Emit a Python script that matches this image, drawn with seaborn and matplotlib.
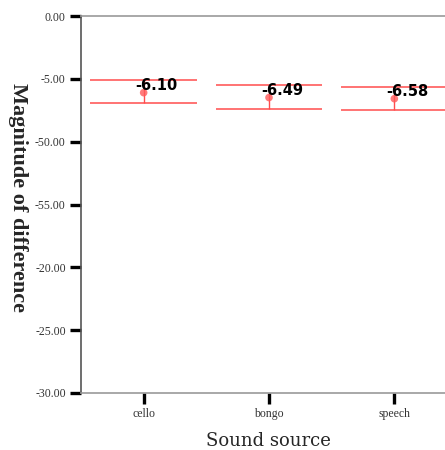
import matplotlib
matplotlib.use("Agg")
import matplotlib.pyplot as plt
import seaborn as sns
import pandas as pd
import numpy as np
from matplotlib.transforms import offset_copy

categories = ["cello", "bongo", "speech"]
means = [-6.10, -6.49, -6.58]
ci_upper = [-5.09, -5.49, -5.62]
ci_lower = [-6.92, -7.40, -7.48]
mean_labels = ["-6.10", "-6.49", "-6.58"]
y_ticks = [0, -5, -10, -15, -20, -25, -30]
y_tick_labels = ["0.00", "-5.00", "-50.00", "-55.00", "-20.00", "-25.00", "-30.00"]

df = pd.DataFrame({"source": categories, "mean": means,
                   "lo": ci_lower, "hi": ci_upper, "label": mean_labels})

sns.set_style("white")
fig = plt.figure(figsize=(4.45, 4.5), dpi=100)
ax = fig.add_axes([0.182, 0.1267, 0.845, 0.8377])

sns.scatterplot(data=df, x="source", y="mean", ax=ax, color="#ff5a5a",
                s=30, edgecolor="none", alpha=0.8, zorder=4, legend=False)

xs = np.arange(len(categories))
cap = 0.425
ax.hlines(df["hi"], xs - cap, xs + cap, color="#ff4d4d", lw=1.1, zorder=3)
ax.hlines(df["lo"], xs - cap, xs + cap, color="#ff4d4d", lw=1.1, zorder=3)
ax.vlines(xs, df["lo"], df["hi"], color="#ff4d4d", lw=1.0, zorder=3)

for i, row in df.iterrows():
    tr = offset_copy(ax.transData, fig=fig, x=-8, y=7, units="dots")
    ax.text(i, row["mean"], row["label"], transform=tr, ha="left", va="center",
            fontsize=10.5, family="DejaVu Sans", fontweight="semibold",
            color="black", zorder=5)

ax.set_xlim(-0.5, 2.5)
ax.set_ylim(-30, 0)
ax.set_yticks(y_ticks)
ax.set_yticklabels(y_tick_labels, family="Liberation Serif", fontsize=8.5, color="#333333")
ax.set_xticks(xs)
ax.set_xticklabels(categories, family="Liberation Serif", fontsize=8.5, color="#333333")
ax.tick_params(axis="both", which="both", direction="out", length=8, width=2.4,
               color="black", left=True, bottom=True, pad=3)

for s in ["top", "bottom", "right"]:
    ax.spines[s].set_color("#999999")
    ax.spines[s].set_linewidth(1.2)
ax.spines["left"].set_color("#555555")
ax.spines["left"].set_linewidth(1.2)

ax.set_xlabel("")
ax.set_ylabel("")
fig.text(0.04, 0.562, "Magnitude of difference", rotation=-90, ha="center", va="center",
         family="Liberation Serif", fontweight="bold", fontsize=16)
fig.text(268/445, 1 - 441/450, "Sound source", ha="center", va="center",
         family="DejaVu Serif", fontsize=13)

fig.savefig("out.png", dpi=100)
